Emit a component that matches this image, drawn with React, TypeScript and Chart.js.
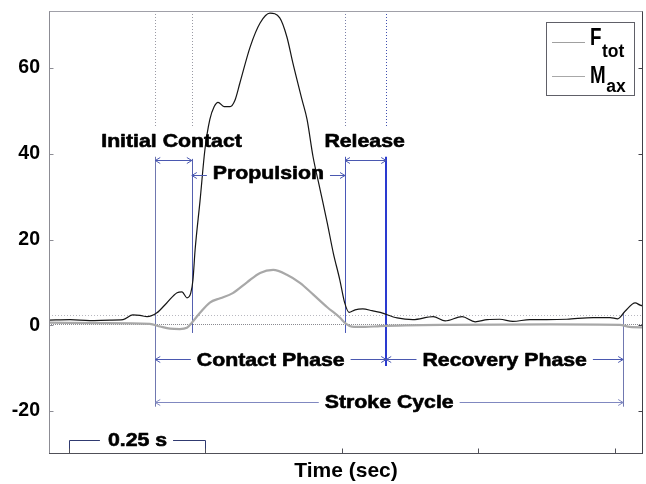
import React, { useEffect, useRef } from 'react';
import { Chart, registerables } from 'chart.js';

Chart.register(...registerables);

// ---- data (time in s, force in N) ----
const fTotTime = [
  -0.037, 0.002, 0.038, 0.075, 0.099, 0.117, 0.13, 0.143, 0.161, 0.179, 0.198, 0.207, 0.216, 0.223,
  0.227, 0.231, 0.24, 0.249, 0.258, 0.266, 0.273, 0.284, 0.295, 0.304, 0.313, 0.332, 0.35, 0.368,
  0.386, 0.399, 0.41, 0.427, 0.436, 0.447, 0.46, 0.473, 0.484, 0.496, 0.505, 0.513, 0.524, 0.538,
  0.555, 0.57, 0.601, 0.63, 0.667, 0.689, 0.72, 0.744, 0.766, 0.789, 0.813, 0.844, 0.875, 0.912,
  0.96, 0.991, 1.005, 1.018, 1.037, 1.046, 1.055,
];
const fTotValue = [
  1.2, 1.3, 1.1, 1.2, 1.3, 2.4, 2.3, 2.0, 2.9, 5.2, 7.6, 7.8, 6.4, 7.5,
  10.5, 17.6, 29, 41, 48, 51, 52, 51, 51, 52.5, 56.5, 65, 70.5, 72.8,
  71.7, 67.3, 61.2, 52.5, 48, 39.3, 31.6, 23.9, 16.9, 10.6, 5.2, 3.0, 3.6, 3.8,
  3.4, 3.0, 1.7, 1.3, 2.0, 1.0, 2.0, 0.8, 1.3, 1.4, 0.9, 1.3, 1.3, 1.4,
  1.8, 1.8, 1.5, 3.2, 5.2, 4.7, 4.4,
];
const mAxTime = [
  -0.037, 0.057, 0.148, 0.167, 0.185, 0.203, 0.216, 0.225, 0.24, 0.258, 0.277, 0.3, 0.326, 0.35,
  0.374, 0.399, 0.423, 0.447, 0.473, 0.496, 0.507, 0.518, 0.542, 0.57, 0.698, 0.881, 1.009, 1.027, 1.055,
];
const mAxValue = [
  0.6, 0.5, 0.3, -0.3, -0.8, -0.9, -0.6, 0.6, 2.9, 5.3, 6.3, 7.5, 10.0, 12.2,
  12.9, 11.8, 9.9, 7.2, 4.2, 1.8, 0.4, -0.3, -0.4, -0.2, 0.1, 0.2, 0.1, -0.4, -0.5,
];
const yTicks = [-20, 0, 20, 40, 60];
const xTicks = [0, 0.25, 0.5, 0.75, 1.0];
// initial contact start, propulsion start, release start, recovery start, cycle end
const phaseTimes = [0.158, 0.225, 0.5055, 0.581, 1.015];
const phaseLabels = ['Initial Contact', 'Propulsion', 'Release', 'Contact Phase', 'Recovery Phase', 'Stroke Cycle'];
const thresholdLevels = [2.3, 0.4];
const scaleBarTimes = [0, 0.25];
const scaleBarLabel = '0.25 s';

const X_MIN = -0.0366;
const X_MAX = 1.0513;
const Y_MIN = -29.8;
const Y_MAX = 73.3;

const FONT = '"Liberation Sans", Arial, sans-serif';
const STRETCH = 1.15;

const annotate = {
  id: 'annotate',
  beforeDatasetsDraw(chart: any) {
    const { ctx, chartArea: a } = chart;
    const xs = chart.scales.x;
    const ys = chart.scales.y;
    const px = (t: number) => Math.round(xs.getPixelForValue(t)) + 0.5;
    const py = (v: number) => Math.round(ys.getPixelForValue(v)) + 0.5;
    ctx.save();
    ctx.beginPath();
    ctx.rect(a.left, a.top, a.right - a.left, a.bottom - a.top);
    ctx.clip();
    // threshold dotted lines
    thresholdLevels.forEach((v, i) => {
      ctx.beginPath();
      ctx.setLineDash(i === 0 ? [1, 2] : [1, 1]);
      ctx.strokeStyle = i === 0 ? '#b8b8c0' : '#8a8a90';
      ctx.lineWidth = 1;
      ctx.moveTo(a.left, py(v));
      ctx.lineTo(a.right, py(v));
      ctx.stroke();
    });
    // dotted verticals from top
    phaseTimes.slice(0, 4).forEach((t, i) => {
      ctx.beginPath();
      ctx.setLineDash([1, 2]);
      ctx.strokeStyle = i === 3 ? '#4050b0' : i === 2 ? '#7a7fa8' : '#9a9aa4';
      ctx.lineWidth = 1;
      ctx.moveTo(px(t), a.top);
      ctx.lineTo(px(t), py(46.3));
      ctx.stroke();
    });
    ctx.setLineDash([]);
    // solid verticals
    const solids: [number, number, number, string, number][] = [
      [phaseTimes[0], 39.3, -19.0, '#7078b0', 1],
      [phaseTimes[1], 38.8, -1.8, '#5560b0', 1],
      [phaseTimes[2], 39.3, -1.8, '#4a58b8', 1],
      [phaseTimes[3], 39.3, -9.5, '#2a3ad0', 2],
      [phaseTimes[4], 2.9, -19.0, '#7078b0', 1],
    ];
    solids.forEach(([t, v1, v2, c, w]) => {
      ctx.beginPath();
      ctx.strokeStyle = c;
      ctx.lineWidth = w;
      const x = w === 2 ? Math.round(xs.getPixelForValue(t)) : px(t);
      ctx.moveTo(x, ys.getPixelForValue(v1));
      ctx.lineTo(x, ys.getPixelForValue(v2));
      ctx.stroke();
    });
    ctx.restore();
  },
  afterDatasetsDraw(chart: any) {
    const { ctx, chartArea: a } = chart;
    const xs = chart.scales.x;
    const ys = chart.scales.y;
    const px = (t: number) => xs.getPixelForValue(t);
    const py = (v: number) => Math.round(ys.getPixelForValue(v)) + 0.5;
    ctx.save();
    const fs = 18.5;
    const textW = (s: string) => {
      ctx.font = `bold ${fs}px ${FONT}`;
      return ctx.measureText(s).width * STRETCH;
    };
    const drawText = (s: string, cx: number, cy: number) => {
      ctx.font = `bold ${fs}px ${FONT}`;
      const w = textW(s);
      ctx.save();
      ctx.translate(cx - w / 2, cy + 6.6);
      ctx.scale(STRETCH, 1);
      ctx.fillStyle = '#000';
      ctx.strokeStyle = '#000';
      ctx.lineWidth = 0.6;
      ctx.lineJoin = 'round';
      ctx.textBaseline = 'alphabetic';
      ctx.textAlign = 'left';
      ctx.fillText(s, 0, 0);
      ctx.strokeText(s, 0, 0);
      ctx.restore();
    };
    const head = (x: number, y: number, dir: number, color: string) => {
      ctx.beginPath();
      ctx.strokeStyle = color;
      ctx.lineWidth = 1;
      ctx.moveTo(x - dir * 5, y - 3);
      ctx.lineTo(x, y);
      ctx.lineTo(x - dir * 5, y + 3);
      ctx.stroke();
    };
    const hline = (x1: number, x2: number, y: number, color: string) => {
      ctx.beginPath();
      ctx.strokeStyle = color;
      ctx.lineWidth = 1;
      ctx.moveTo(x1, y);
      ctx.lineTo(x2, y);
      ctx.stroke();
    };
    // arrow with gap for text
    const gapArrow = (t1: number, t2: number, v: number, label: string, color: string, textDy = 0) => {
      const x1 = px(t1);
      const x2 = px(t2);
      const y = py(v);
      const mid = (x1 + x2) / 2;
      const w = textW(label);
      hline(x1, mid - w / 2 - 6, y, color);
      hline(mid + w / 2 + 6, x2, y, color);
      head(x1, y, -1, color);
      head(x2, y, 1, color);
      drawText(label, mid, y - 0.5 + textDy);
    };
    const plainArrow = (t1: number, t2: number, v: number, color: string) => {
      const x1 = px(t1);
      const x2 = px(t2);
      const y = py(v);
      hline(x1, x2, y, color);
      head(x1, y, -1, color);
      head(x2, y, 1, color);
    };
    const blue = '#4a58b0';
    // Initial contact & release
    plainArrow(phaseTimes[0], phaseTimes[1], 38.5, blue);
    drawText(phaseLabels[0], (px(phaseTimes[0]) + px(phaseTimes[1])) / 2 - 2, ys.getPixelForValue(43.2));
    plainArrow(phaseTimes[2], phaseTimes[3], 38.5, blue);
    drawText(phaseLabels[2], (px(phaseTimes[2]) + px(phaseTimes[3])) / 2 - 1, ys.getPixelForValue(43.2));
    // propulsion
    gapArrow(phaseTimes[1], phaseTimes[2], 35.0, phaseLabels[1], blue, -2.5);
    // contact / recovery
    gapArrow(phaseTimes[0], phaseTimes[3], -7.8, phaseLabels[3], blue, 0);
    gapArrow(phaseTimes[3], phaseTimes[4], -7.8, phaseLabels[4], blue, 0);
    // stroke cycle
    gapArrow(phaseTimes[0], phaseTimes[4], -17.8, phaseLabels[5], '#8088c0', -1);
    // scale bar
    {
      const x1 = Math.round(px(scaleBarTimes[0])) + 0.5;
      const x2 = Math.round(px(scaleBarTimes[1])) + 0.5;
      const y = py(-26.8);
      const mid = (x1 + x2) / 2;
      const w = textW(scaleBarLabel);
      const c = '#303a70';
      ctx.beginPath();
      ctx.strokeStyle = c;
      ctx.lineWidth = 1;
      ctx.moveTo(x1, a.bottom);
      ctx.lineTo(x1, y);
      ctx.lineTo(mid - w / 2 - 8, y);
      ctx.moveTo(mid + w / 2 + 6, y);
      ctx.lineTo(x2, y);
      ctx.lineTo(x2, a.bottom);
      ctx.stroke();
      drawText(scaleBarLabel, mid, y - 1);
    }
    ctx.restore();
  },
  afterDraw(chart: any) {
    const { ctx, chartArea: a } = chart;
    const xs = chart.scales.x;
    const ys = chart.scales.y;
    const L = a.left + 0.5;
    const R = Math.round(a.right) - 0.5;
    const T = a.top + 0.5;
    const B = Math.round(a.bottom) + 0.5;
    ctx.save();
    const seg = (x1: number, y1: number, x2: number, y2: number, c: string) => {
      ctx.beginPath();
      ctx.strokeStyle = c;
      ctx.lineWidth = 1;
      ctx.moveTo(x1, y1);
      ctx.lineTo(x2, y2);
      ctx.stroke();
    };
    seg(L - 0.5, T, R + 0.5, T, '#a0a0a8');
    seg(L, T, L, B, '#8c8c94');
    seg(L - 0.5, B, R + 0.5, B, '#505058');
    seg(R, T, R, B, '#404048');
    yTicks.forEach((v) => {
      const y = Math.round(ys.getPixelForValue(v)) + 0.5;
      seg(L, y, L + 4, y, '#8c8c94');
      seg(R - 4, y, R, y, '#404048');
    });
    xTicks.forEach((t) => {
      const x = Math.round(xs.getPixelForValue(t)) + 0.5;
      seg(x, B, x, B - 5, '#505058');
    });
    // legend
    const bx = 546.5;
    const by = 22.5;
    const bw = 88;
    const bh = 73;
    ctx.fillStyle = '#ffffff';
    ctx.fillRect(bx, by, bw, bh);
    ctx.strokeStyle = '#606068';
    ctx.lineWidth = 1;
    ctx.strokeRect(bx, by, bw, bh);
    const ds = chart.data.datasets;
    seg(552, 42.5, 585, 42.5, '#a0a0a0');
    seg(552, 76.5, 585, 76.5, '#a8a8a8');
    const sym = (main: string, sub: string, x: number, base: number, subBase: number) => {
      ctx.fillStyle = '#000';
      ctx.textBaseline = 'alphabetic';
      ctx.textAlign = 'left';
      ctx.font = `bold 23.5px ${FONT}`;
      const w = ctx.measureText(main).width * 0.8;
      ctx.save();
      ctx.translate(x, base);
      ctx.scale(0.8, 1);
      ctx.fillText(main, 0, 0);
      ctx.restore();
      ctx.font = `bold 17.5px ${FONT}`;
      ctx.fillText(sub, x + w + 0.5, subBase);
    };
    sym(ds[0].label.split('_')[0], ds[0].label.split('_')[1], 590, 45, 57);
    sym(ds[1].label.split('_')[0], ds[1].label.split('_')[1], 590, 83, 92);
    ctx.restore();
  },
};

export default function App() {
  const ref = useRef<HTMLCanvasElement | null>(null);
  useEffect(() => {
    if (!ref.current) return;
    const chart = new Chart(ref.current, {
      type: 'line',
      data: {
        datasets: [
          {
            label: 'F_tot',
            data: fTotTime.map((t, i) => ({ x: t, y: fTotValue[i] })),
            borderColor: '#151515',
            borderWidth: 1.2,
            pointRadius: 0,
            cubicInterpolationMode: 'monotone',
            fill: false,
          },
          {
            label: 'M_ax',
            data: mAxTime.map((t, i) => ({ x: t, y: mAxValue[i] })),
            borderColor: '#a8a8a8',
            borderWidth: 2.2,
            pointRadius: 0,
            cubicInterpolationMode: 'monotone',
            fill: false,
          },
        ],
      },
      options: {
        animation: false,
        responsive: true,
        maintainAspectRatio: false,
        layout: { padding: { top: 11, right: 3, left: 0, bottom: 0 } },
        plugins: { legend: { display: false }, tooltip: { enabled: false } },
        scales: {
          x: {
            type: 'linear',
            min: X_MIN,
            max: X_MAX,
            grid: { display: false, drawTicks: false },
            border: { display: false },
            ticks: { display: false },
            title: {
              display: true,
              text: 'Time (sec)',
              color: '#000',
              font: { family: FONT, size: 21, weight: 'bold' },
              padding: { top: 0, bottom: 0 },
            },
            afterFit: (s: any) => {
              s.height = 31;
              s.paddingLeft = 0;
              s.paddingRight = 0;
            },
          },
          y: {
            type: 'linear',
            min: Y_MIN,
            max: Y_MAX,
            grid: { display: false, drawTicks: false },
            border: { display: false },
            afterBuildTicks: (s: any) => {
              s.ticks = yTicks.map((v) => ({ value: v }));
            },
            ticks: {
              color: '#000',
              padding: 9,
              font: { family: FONT, size: 19.5, weight: 'bold' },
            },
            afterFit: (s: any) => {
              s.width = 49;
              s.paddingTop = 0;
              s.paddingBottom = 0;
            },
          },
        },
      },
      plugins: [annotate],
    } as any);
    return () => chart.destroy();
  }, []);
  return (
    <div style={{ position: 'absolute', left: 0, top: 0, width: 646, height: 484, background: '#fff' }}>
      <canvas ref={ref} />
    </div>
  );
}
